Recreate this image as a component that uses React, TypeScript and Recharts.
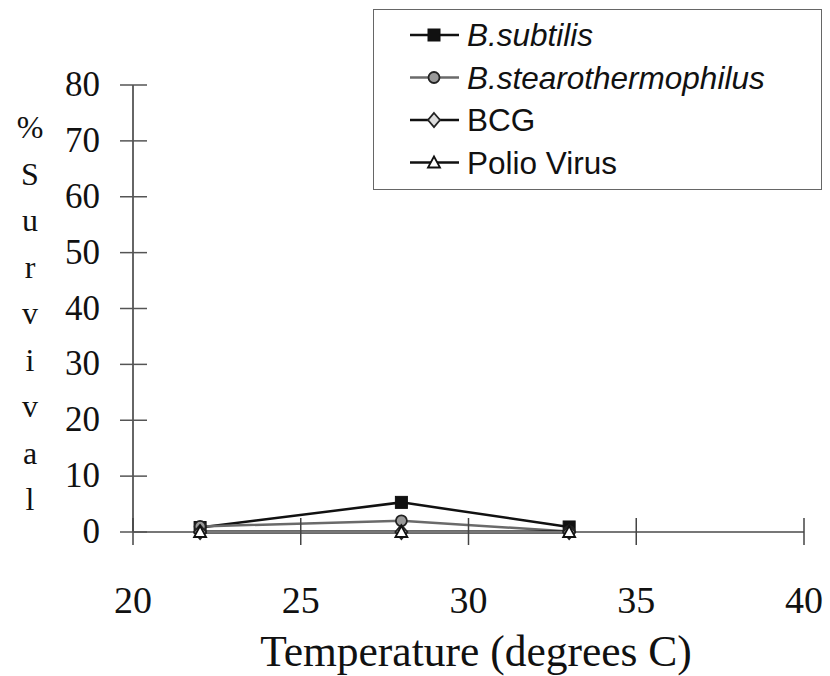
import { LineChart, Line, XAxis, YAxis, Legend } from 'recharts';

const temperatures = [22, 28, 33];
const subtilis = [0.8, 5.3, 0.9];
const stearothermophilus = [1.0, 2.0, 0.1];
const bcg = [0, 0, 0];
const polio = [0, 0, 0];

const xTicks = [20, 25, 30, 35, 40];
const yTicks = [0, 10, 20, 30, 40, 50, 60, 70, 80];
const yLabelLetters = ['%', 'S', 'u', 'r', 'v', 'i', 'v', 'a', 'l'];

const data = temperatures.map((t, i) => ({
    t,
    subtilis: subtilis[i],
    stear: stearothermophilus[i],
    bcg: bcg[i],
    polio: polio[i],
}));

type Shape = 'square' | 'circle' | 'diamond' | 'triangle';

const SERIES: { key: string; name: string; italic: boolean; stroke: string; width: number; shape: Shape }[] = [
    { key: 'subtilis', name: 'B.subtilis', italic: true, stroke: '#111', width: 2.5, shape: 'square' },
    { key: 'stear', name: 'B.stearothermophilus', italic: true, stroke: '#6a6a6a', width: 2.5, shape: 'circle' },
    { key: 'bcg', name: 'BCG', italic: false, stroke: '#111', width: 3, shape: 'diamond' },
    { key: 'polio', name: 'Polio Virus', italic: false, stroke: '#111', width: 2.5, shape: 'triangle' },
];

function Marker({ shape, cx, cy }: { shape: Shape; cx: number; cy: number }) {
    if (shape === 'square') {
        return <rect x={cx - 6} y={cy - 6} width={12} height={12} fill="#111" stroke="#111" />;
    }
    if (shape === 'circle') {
        return <circle cx={cx} cy={cy} r={5.5} fill="#999" stroke="#222" strokeWidth={1.8} />;
    }
    if (shape === 'diamond') {
        return (
            <polygon
                points={`${cx},${cy - 7} ${cx + 6},${cy} ${cx},${cy + 7} ${cx - 6},${cy}`}
                fill="#ddd"
                stroke="#222"
                strokeWidth={1.8}
            />
        );
    }
    return (
        <polygon
            points={`${cx},${cy - 6} ${cx + 6},${cy + 5} ${cx - 6},${cy + 5}`}
            fill="#fff"
            stroke="#111"
            strokeWidth={1.8}
        />
    );
}

const YTick = ({ x, y, payload }: any) => (
    <g>
        <line x1={x - 13} x2={x + 14} y1={y} y2={y} stroke="#555" strokeWidth={1.5} />
        <text x={x - 33} y={y} dy={11} textAnchor="end" fontFamily="Liberation Serif" fontSize={35} fill="#111">
            {payload.value}
        </text>
    </g>
);

const XTick = ({ x, y, payload }: any) => (
    <g>
        <line x1={x} x2={x} y1={y - 14} y2={y + 13} stroke="#444" strokeWidth={1.5} />
        <text x={x} y={y + 81} textAnchor="middle" fontFamily="Liberation Serif" fontSize={38} fill="#111">
            {payload.value}
        </text>
    </g>
);

const YTitle = () => (
    <g>
        {yLabelLetters.map((l, i) => (
            <text
                key={i}
                x={30}
                y={138 + i * 46.5}
                textAnchor="middle"
                fontFamily="Liberation Serif"
                fontSize={32}
                fill="#111"
            >
                {l}
            </text>
        ))}
    </g>
);

const XTitle = () => (
    <text x={476} y={666} textAnchor="middle" fontFamily="Liberation Serif" fontSize={43.5} fill="#111">
        Temperature (degrees C)
    </text>
);

const LegendBox = () => (
    <svg width={446} height={178}>
        {SERIES.map((s, i) => {
            const cy = 25 + i * 42.5;
            return (
                <g key={s.key}>
                    <line x1={36} x2={85} y1={cy} y2={cy} stroke={s.stroke} strokeWidth={2.5} />
                    <Marker shape={s.shape} cx={60} cy={cy} />
                    <text
                        x={93}
                        y={cy + 11}
                        fontFamily="Liberation Sans"
                        fontStyle={s.italic ? 'italic' : 'normal'}
                        fontSize={31.5}
                        fill="#111"
                    >
                        {s.name}
                    </text>
                </g>
            );
        })}
    </svg>
);

export default function App() {
    return (
        <div style={{ position: 'absolute', left: 0, top: 0, width: 830, height: 676, background: '#fff' }}>
            <LineChart width={830} height={676} data={data} margin={{ top: 85, right: 26, left: 0, bottom: 0 }}>
                <XAxis
                    dataKey="t"
                    type="number"
                    domain={[20, 40]}
                    ticks={xTicks}
                    interval={0}
                    height={144}
                    tickSize={0}
                    tickMargin={0}
                    tickLine={false}
                    tick={<XTick />}
                    axisLine={{ stroke: '#777', strokeWidth: 2 }}
                    label={{ content: <XTitle /> }}
                />
                <YAxis
                    type="number"
                    domain={[0, 80]}
                    ticks={yTicks}
                    interval={0}
                    width={133}
                    tickSize={0}
                    tickMargin={0}
                    tickLine={false}
                    tick={<YTick />}
                    axisLine={{ stroke: '#333', strokeWidth: 1.5 }}
                    label={{ content: <YTitle /> }}
                />
                <Legend
                    layout="vertical"
                    align="center"
                    verticalAlign="middle"
                    content={<LegendBox />}
                    wrapperStyle={{
                        left: 373,
                        top: 9,
                        width: 449,
                        height: 181,
                        border: '1.5px solid #666',
                        boxSizing: 'border-box',
                    }}
                />
                {SERIES.map((s) => (
                    <Line
                        key={s.key}
                        dataKey={s.key}
                        name={s.name}
                        stroke={s.stroke}
                        strokeWidth={s.width}
                        isAnimationActive={false}
                        dot={(p: any) => <Marker key={`${s.key}-${p.index}`} shape={s.shape} cx={p.cx} cy={p.cy} />}
                        activeDot={false}
                    />
                ))}
            </LineChart>
        </div>
    );
}
